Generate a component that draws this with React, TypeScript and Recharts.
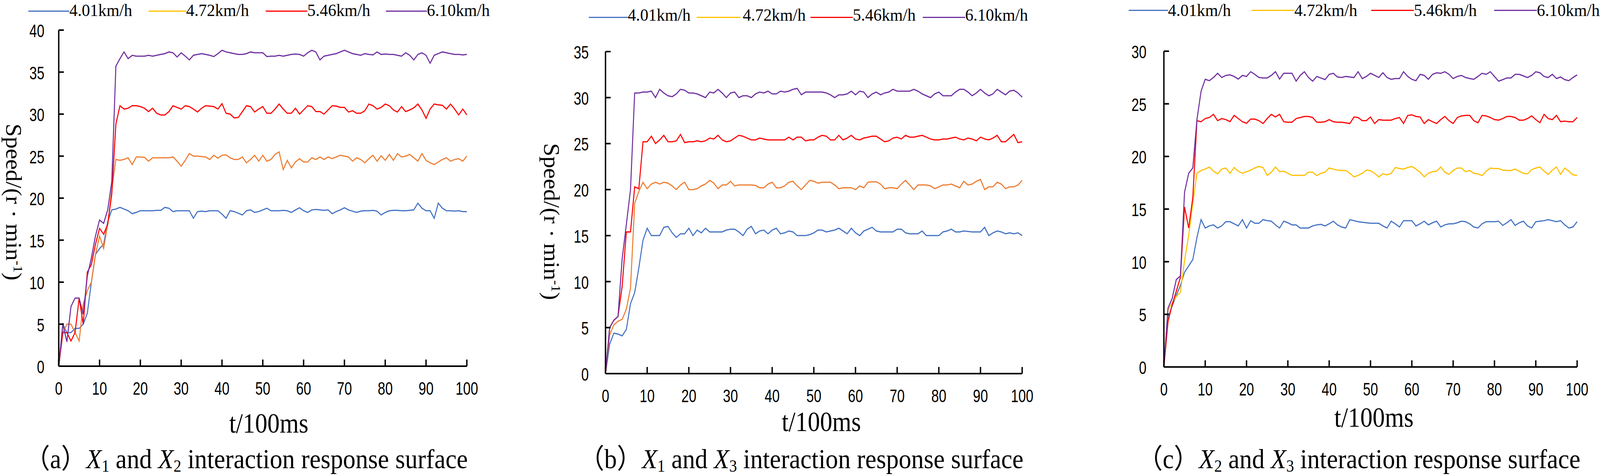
import React from "react";
import { LineChart, Line, XAxis, YAxis } from "recharts";

// Motor speed response for four walking speeds, three factor pairings.
// One sample per 100 ms, t = 0..100.

const PAGE_W = 4685;
const PAGE_H = 1218;

const T = Array.from({ length: 101 }, (_, i) => i);

const SERIES = ["4.01km/h", "4.72km/h", "5.46km/h", "6.10km/h"];
const LEGEND_COLORS = ["#4472C4", "#FFC000", "#FF0000", "#7030A0"];

const X_TICKS = [0, 10, 20, 30, 40, 50, 60, 70, 80, 90, 100];
const Y_TICKS_A = [0, 5, 10, 15, 20, 25, 30, 35, 40];
const Y_TICKS_B = [0, 5, 10, 15, 20, 25, 30, 35];
const Y_TICKS_C = [0, 5, 10, 15, 20, 25, 30];

// (a) X1 and X2
const A_401 = [
  0, 5.0, 4.0, 4.0, 4.5, 4.5, 5.0, 6.3, 10.0, 13.3,
  14.0, 14.5, 17.2, 18.6, 18.7, 18.9, 18.7, 18.5, 18.15, 18.3,
  18.5, 18.5, 18.5, 18.5, 18.55, 18.55, 18.9, 18.8, 18.4, 18.5,
  18.5, 18.5, 18.5, 17.6, 18.4, 18.45, 18.4, 18.5, 18.5, 18.5,
  18.1, 17.6, 18.5, 18.4, 18.2, 18.0, 18.5, 18.6, 18.3, 18.4,
  18.6, 18.8, 18.5, 18.5, 18.5, 18.55, 18.5, 18.3, 18.6, 18.85,
  18.5, 18.3, 18.6, 18.65, 18.6, 18.55, 18.6, 18.15, 18.4, 18.6,
  18.85, 18.6, 18.45, 18.3, 18.45, 18.5, 18.5, 18.55, 18.45, 18.0,
  18.3, 18.5, 18.55, 18.55, 18.5, 18.5, 18.55, 18.6, 19.4, 18.8,
  18.5, 18.5, 17.6, 19.4, 18.8, 18.5, 18.5, 18.45, 18.5, 18.4,
  18.4,
];
const A_472 = [
  0, 4.0, 5.0, 5.0, 4.0, 3.0, 7.4, 9.0, 10.0, 13.3,
  15.5, 14.0, 16.9, 21.0, 24.6, 24.5, 24.6, 24.8, 24.0, 24.9,
  24.9, 24.85, 24.4, 24.8, 24.8, 24.8, 24.8, 24.8, 24.9, 24.4,
  23.8, 24.5, 25.3, 25.0, 25.0, 24.95, 24.9, 24.6, 25.1, 24.75,
  25.1, 25.15, 24.8, 24.6, 24.6, 24.9, 24.2, 24.6, 25.1, 24.4,
  25.1, 24.4, 24.6, 25.2, 25.5, 23.4, 24.5, 23.6, 24.3, 24.7,
  24.3, 24.3, 24.8, 24.6, 24.9, 24.6, 24.9, 24.7, 24.9, 25.1,
  25.0, 24.9, 24.4, 24.8, 24.6, 24.2, 24.7, 25.1, 24.4, 25.05,
  24.5, 25.2, 24.5, 25.3, 24.9, 25.0, 25.2, 24.8, 24.4, 25.3,
  24.5, 24.2, 24.0, 24.3, 24.6, 24.8, 24.4, 24.6, 24.7, 24.4,
  25.0,
];
const A_546 = [
  0, 4.0, 4.0, 3.0, 4.0, 8.1, 5.0, 11.2, 12.1, 14.5,
  16.4, 15.7, 16.9, 20.5, 28.8, 31.0, 30.6, 30.7, 31.0, 31.0,
  30.9, 30.7, 30.3, 30.7, 30.1, 29.9, 29.9, 30.3, 31.0, 30.8,
  30.6, 31.0, 30.9, 30.6, 30.25, 30.7, 31.0, 30.95, 30.9, 30.6,
  31.25, 30.1, 30.0, 29.55, 29.6, 30.3, 31.0, 30.9, 30.25, 30.6,
  30.9, 30.1, 30.1, 30.6, 31.2, 30.6, 30.1, 30.1, 30.7, 30.0,
  30.5, 31.0, 30.9, 30.3, 30.3, 30.0, 30.5, 31.0, 30.95, 30.8,
  30.8, 30.25, 30.4, 30.1, 30.1, 30.4, 31.2, 31.0, 30.6, 30.8,
  31.2, 31.0, 30.5, 30.25, 30.9, 30.3, 30.5, 30.75, 31.2, 30.5,
  29.5, 30.6, 31.2, 31.1, 31.05, 30.6, 31.2, 30.6, 29.9, 30.6,
  29.9,
];
const A_610 = [
  0, 5.0, 2.9, 7.1, 8.1, 8.1, 6.2, 10.7, 12.9, 15.5,
  17.4, 17.0, 18.6, 22.0, 35.7, 36.6, 37.4, 36.6, 37.0, 36.9,
  36.9, 36.9, 37.0, 36.9, 37.0, 37.1, 37.2, 37.4, 37.3, 36.8,
  37.3, 36.9, 36.45, 37.0, 37.1, 37.2, 37.1, 37.0, 36.85, 37.2,
  37.6, 37.4, 37.3, 37.2, 37.1, 37.1, 37.2, 37.4, 37.3, 37.3,
  37.3, 36.85, 36.9, 36.9, 37.0, 36.9, 37.0, 37.1, 37.15, 37.1,
  36.9, 37.3, 37.6, 37.4, 36.45, 36.9, 37.0, 37.1, 37.2, 37.4,
  37.6, 37.4, 37.2, 37.1, 37.0, 37.2, 37.1, 37.05, 37.4, 37.1,
  37.15, 37.1, 37.1, 37.0, 36.9, 37.3, 37.0, 36.45, 37.1, 37.3,
  37.0, 36.06, 37.0, 37.2, 37.4, 37.3, 37.2, 37.1, 37.1, 37.05,
  37.1,
];

// (b) X1 and X3
const B_401 = [
  0, 3.2, 4.4, 4.3, 4.1, 4.8, 7.6, 8.8, 11.5, 14.5,
  15.8, 15.0, 15.0, 15.0, 15.9, 16.0, 15.3, 14.8, 15.2, 15.2,
  15.8, 15.0, 15.6, 15.3, 15.8, 15.4, 15.4, 15.4, 15.4, 15.6,
  15.7, 15.7, 15.4, 15.0, 15.7, 16.0, 15.2, 15.5, 15.6, 15.2,
  15.6, 15.8, 15.2, 15.3, 15.5, 15.4, 15.0, 15.0, 15.0, 15.1,
  15.3, 15.6, 15.6, 15.4, 15.5, 15.6, 15.8, 15.5, 15.2, 15.8,
  15.3, 15.0, 15.5, 15.7, 15.9, 15.5, 15.4, 15.4, 15.4, 15.4,
  15.7, 15.7, 15.3, 15.2, 15.2, 15.2, 15.5, 15.0, 15.0, 15.0,
  15.0, 15.4, 15.5, 15.7, 15.4, 15.4, 15.5, 15.45, 15.4, 15.4,
  15.4, 15.9, 15.0, 15.3, 15.5, 15.4, 15.2, 15.3, 15.2, 15.3,
  15.0,
];
const B_472 = [
  0, 4.2, 5.3, 5.7, 5.9, 7.0, 9.3, 18.5, 19.8, 20.8,
  20.1, 20.6, 20.8, 20.6, 20.8, 20.7, 20.4, 20.0, 20.5, 20.8,
  20.0, 20.0, 20.1, 20.4, 20.6, 21.0, 20.7, 20.1, 20.5, 20.5,
  20.9, 20.4, 20.5, 20.5, 20.5, 20.5, 20.45, 20.2, 20.2, 20.6,
  20.8, 20.2, 20.2, 20.4, 20.8, 20.9, 20.4, 20.0, 20.5, 21.0,
  20.9, 20.7, 20.8, 20.8, 20.8, 20.5, 20.1, 20.2, 20.2, 20.2,
  20.0, 20.4, 20.2, 20.8, 20.85, 20.85, 20.6, 20.1, 20.2, 20.2,
  20.1, 20.6, 21.0, 20.5, 20.0, 20.5, 20.5, 20.5, 20.4, 20.1,
  20.3, 20.5, 20.5, 20.6, 20.4, 20.2, 20.9, 20.5, 20.6, 20.9,
  21.1, 20.0, 20.3, 20.3, 20.8, 20.6, 20.1, 20.3, 20.3, 20.5,
  21.0,
];
const B_546 = [
  0, 5.0, 5.8, 6.2, 9.5, 15.4, 15.4, 20.3, 20.1, 25.2,
  25.2, 25.8, 25.0, 25.4, 25.9, 25.2, 25.2, 25.3, 26.0, 25.1,
  25.2, 25.2, 25.3, 25.2, 25.3, 25.6, 25.5, 25.9, 25.4, 25.2,
  25.3, 25.6, 25.9, 25.8, 25.6, 25.4, 25.4, 25.6, 25.5, 25.4,
  25.4, 25.4, 25.4, 25.4, 25.7, 25.4, 25.7, 25.7, 25.3, 25.4,
  25.4, 25.7, 25.9, 25.8, 25.4, 25.4, 25.9, 25.4, 25.6, 25.9,
  25.5, 25.4, 25.6, 25.7, 25.8, 25.8, 25.5, 25.2, 25.3, 25.6,
  25.7, 25.5, 25.9, 25.7, 25.7, 25.8, 25.9, 25.7, 25.5, 25.4,
  25.4, 25.5, 25.5, 25.6, 25.7, 25.5, 25.4, 25.6, 25.5, 25.3,
  25.7, 25.5, 25.4, 25.6, 25.9, 25.2, 25.2, 25.6, 26.0, 25.1,
  25.2,
];
const B_610 = [
  0, 5.0, 5.8, 6.2, 12.5, 16.2, 20.0, 30.5, 30.5, 30.6,
  30.6, 30.7, 30.0, 30.9, 30.5, 30.2, 30.1, 30.4, 30.9, 30.8,
  30.5, 30.5, 30.4, 30.2, 30.0, 30.6, 30.5, 30.9, 30.5, 30.0,
  30.5, 30.6, 30.0, 30.2, 30.2, 30.0, 30.4, 30.6, 30.5, 30.7,
  30.4, 30.4, 30.7, 30.6, 30.7, 30.9, 31.0, 30.3, 30.6, 30.6,
  30.6, 30.6, 30.6, 30.5, 30.3, 30.0, 30.3, 30.3, 30.4, 30.7,
  30.3, 30.7, 30.6, 30.0, 30.4, 30.6, 30.3, 30.5, 30.6, 30.9,
  30.7, 30.7, 30.7, 30.7, 30.9, 30.7, 30.4, 30.2, 30.0, 30.4,
  30.6, 30.2, 30.2, 30.2, 30.6, 30.9, 30.9, 30.6, 30.2, 30.5,
  30.9, 30.5, 30.2, 30.4, 30.9, 30.6, 30.3, 30.7, 30.8, 30.5,
  30.05,
];

// (c) X2 and X3
const C_401 = [
  0, 4.7, 5.8, 6.8, 7.75, 9.0, 9.6, 10.2, 12.3, 14.0,
  13.2, 13.4, 13.5, 13.2, 13.4, 13.8, 13.8, 13.6, 13.4, 14.0,
  13.2, 13.9, 13.65, 13.65, 14.0, 13.9, 13.85, 13.5, 13.2, 13.85,
  13.7, 13.5, 13.5, 13.2, 13.2, 13.2, 13.4, 13.5, 13.55, 13.4,
  13.6, 13.85, 13.5, 13.3, 13.2, 14.0, 13.9, 13.8, 13.75, 13.7,
  13.65, 13.65, 13.65, 13.4, 13.2, 13.85, 13.6, 13.3, 13.9, 13.9,
  13.9, 13.4, 13.6, 13.85, 13.5, 13.7, 13.85, 13.3, 13.5, 13.6,
  13.6, 13.7, 13.85, 13.8, 13.6, 13.3, 13.2, 13.6, 13.8, 13.8,
  13.8, 13.85, 13.45, 13.7, 14.0, 13.45, 13.7, 13.85, 13.4, 13.2,
  13.8, 13.85, 13.9, 14.0, 13.9, 13.8, 13.9, 13.5, 13.2, 13.3,
  13.8,
];
const C_472 = [
  0, 5.4, 6.1, 6.7, 7.1, 10.1, 12.5, 15.5, 18.4, 18.67,
  18.8, 19.0, 18.6, 18.35, 18.8, 18.9, 18.4, 18.95, 18.6, 18.4,
  18.55, 18.7, 18.9, 19.05, 18.95, 18.2, 18.5, 19.0, 18.55, 18.6,
  18.4, 18.2, 18.2, 18.2, 18.2, 18.5, 18.5, 18.18, 18.4, 18.5,
  18.9, 18.8, 18.7, 18.67, 18.67, 18.4, 18.06, 18.2, 18.4, 18.7,
  18.65, 18.4, 18.06, 18.35, 18.25, 18.4, 18.95, 18.85, 18.8, 18.95,
  19.05, 18.8, 18.5, 18.06, 18.4, 18.55, 18.6, 19.0, 18.5, 18.3,
  18.67, 18.9, 18.9, 18.55, 18.67, 18.4, 18.35, 18.18, 18.6, 18.9,
  18.85, 18.85, 18.7, 18.67, 18.67, 18.8, 18.6, 18.4, 18.35, 18.75,
  18.9, 19.0, 18.6, 18.3, 18.7, 19.0, 18.3, 18.9, 18.6, 18.25,
  18.2,
];
const C_546 = [
  0, 4.3, 5.9, 7.2, 8.5, 15.2, 13.2, 16.1, 23.4, 23.3,
  23.6, 23.7, 24.0, 23.4, 23.6, 23.5, 23.3, 23.9, 23.6, 23.3,
  23.15, 23.55, 23.55, 23.4, 23.13, 23.6, 24.0, 23.75, 24.0, 23.3,
  23.25, 23.25, 23.6, 23.7, 23.8, 23.8, 23.7, 23.25, 23.25, 23.3,
  23.5, 23.3, 23.25, 23.25, 23.2, 23.13, 23.75, 23.7, 23.4, 23.4,
  23.75, 23.13, 23.5, 23.45, 23.45, 23.45, 23.6, 23.7, 23.13, 23.9,
  23.95, 23.8, 23.75, 23.13, 23.5, 23.3, 23.13, 23.5, 23.8, 23.4,
  23.13, 23.7, 23.85, 23.9, 23.9, 23.4, 23.2, 23.9, 23.85, 23.7,
  23.5, 23.45, 23.6, 23.8, 23.8, 23.7, 23.45, 23.45, 23.6, 23.85,
  23.5, 23.2, 24.0, 23.6, 23.5, 23.9, 23.3, 23.35, 23.3, 23.3,
  23.7,
];
const C_610 = [
  0, 5.6, 6.5, 8.3, 8.65, 16.6, 18.4, 18.9, 23.5, 26.2,
  27.33, 27.2, 27.5, 27.9, 27.5, 27.7, 27.75, 27.6, 27.35, 27.7,
  27.6, 28.05, 27.8, 27.5, 27.46, 27.46, 27.7, 28.05, 27.35, 27.9,
  27.9, 27.9, 27.15, 27.7, 28.05, 27.5, 27.15, 27.6, 27.45, 27.3,
  27.8, 27.9, 27.55, 27.5, 27.6, 27.55, 27.5, 28.05, 27.4, 27.6,
  27.9, 27.7, 27.5, 27.95, 27.5, 27.33, 27.4, 27.4, 28.05, 27.6,
  27.33, 27.2, 27.8, 27.7, 27.33, 27.8, 27.95, 27.9, 28.05, 27.8,
  27.4, 27.6, 27.7, 27.5, 27.4, 27.33, 27.6, 27.9, 27.8, 28.05,
  27.6, 27.15, 27.3, 27.46, 27.46, 27.8, 27.8, 27.65, 27.5, 27.7,
  28.05, 27.95, 27.6, 27.5, 27.8, 27.4, 27.55, 27.3, 27.2, 27.5,
  27.75,
];

const SERIF = '"Liberation Serif", "Times New Roman", "Noto Sans CJK SC", serif';
const TICK_FONT = '"Liberation Sans", Arial, sans-serif';

const toRows = (cols: number[][]) =>
  T.map((t, i) => ({ t, s0: cols[0][i], s1: cols[1][i], s2: cols[2][i], s3: cols[3][i] }));

// layout of the three panels, in sheet pixels
const PANELS = [
  {
    id: "a",
    rows: toRows([A_401, A_472, A_546, A_610]),
    colors: ["#4472C4", "#ED7D31", "#FF0000", "#7030A0"],
    yTicks: Y_TICKS_A,
    left: 0,
    width: 1500,
    margin: { top: 77, right: 133, bottom: 201, left: 72 },
    yGap: 42,
    legend: { lineY: 28, base: 42, items: [[83, 203, 203], [435, 545, 545], [778, 900, 900], [1130, 1250, 1250]] },
    yTitle: { x: 40, y: 517 },
    xTitle: { x: 787, base: 1107 },
    caption: { x: 73, sub: ["1", "2"], tag: "a" },
  },
  {
    id: "b",
    rows: toRows([B_401, B_472, B_546, B_610]),
    colors: ["#4472C4", "#ED7D31", "#FF0000", "#7030A0"],
    yTicks: Y_TICKS_B,
    left: 1560,
    width: 1500,
    margin: { top: 132, right: 67, bottom: 182, left: 113 },
    yGap: 49,
    legend: { lineY: 44, base: 54, items: [[1724, 1838, 1838], [2040, 2168, 2175], [2373, 2497, 2497], [2702, 2826, 2826]] },
    yTitle: { x: 1615, y: 567 },
    xTitle: { x: 2405, base: 1103 },
    caption: { x: 1696, sub: ["1", "3"], tag: "b" },
  },
  {
    id: "c",
    rows: toRows([C_401, C_472, C_546, C_610]),
    colors: ["#4472C4", "#FFC000", "#FF0000", "#7030A0"],
    yTicks: Y_TICKS_C,
    left: 3120,
    width: 1560,
    margin: { top: 131, right: 62, bottom: 199, left: 188 },
    yGap: 51,
    legend: { lineY: 26, base: 42, items: [[3305, 3420, 3420], [3665, 3790, 3790], [4015, 4140, 4140], [4375, 4500, 4500]] },
    yTitle: null,
    xTitle: { x: 4023, base: 1092 },
    caption: { x: 3331, sub: ["2", "3"], tag: "c" },
  },
];

const XTick = ({ x, y, payload }: any) => (
  <text
    transform={`translate(${x},${y}) scale(0.86,1)`}
    textAnchor="middle"
    dy={33}
    fontFamily={TICK_FONT}
    fontSize={46}
    fill="#000"
  >
    {payload.value}
  </text>
);

const YTick = ({ x, y, payload }: any) => (
  <text
    transform={`translate(${x},${y}) scale(0.86,1)`}
    textAnchor="end"
    dy={18}
    fontFamily={TICK_FONT}
    fontSize={46}
    fill="#000"
  >
    {payload.value}
  </text>
);

const baseTop = (base: number, fs: number) => base - 0.8375 * fs;

const Sub = ({ children }: any) => (
  <span style={{ fontSize: "0.62em", lineHeight: 1, position: "relative", top: "0.2em" }}>{children}</span>
);

function Panel({ p }: { p: (typeof PANELS)[number] }) {
  const axisStroke = { stroke: "#000", strokeWidth: 4 };
  return (
    <>
      <div style={{ position: "absolute", left: p.left, top: 0 }}>
        <LineChart width={p.width} height={PAGE_H} data={p.rows} margin={p.margin}>
          <XAxis
            dataKey="t"
            type="number"
            domain={[0, 100]}
            ticks={X_TICKS}
            interval={0}
            height={80}
            axisLine={axisStroke}
            tickLine={axisStroke}
            tickSize={-17}
            tickMargin={57}
            tick={<XTick />}
          />
          <YAxis
            type="number"
            domain={[0, p.yTicks[p.yTicks.length - 1]]}
            ticks={p.yTicks}
            interval={0}
            width={100}
            axisLine={axisStroke}
            tickLine={axisStroke}
            tickSize={-15}
            tickMargin={p.yGap + 15}
            tick={<YTick />}
          />
          {SERIES.map((name, k) => (
            <Line
              key={name}
              name={name}
              dataKey={`s${k}`}
              type="linear"
              stroke={p.colors[k]}
              strokeWidth={3}
              dot={false}
              activeDot={false}
              isAnimationActive={false}
            />
          ))}
        </LineChart>
      </div>

      {/* legend */}
      {SERIES.map((name, k) => {
        const [x1, x2, tx] = p.legend.items[k];
        return (
          <React.Fragment key={`${p.id}-${name}`}>
            <div
              style={{
                position: "absolute",
                left: x1,
                top: p.legend.lineY - 1.5,
                width: x2 - x1,
                height: 3,
                background: LEGEND_COLORS[k],
              }}
            />
            <div
              style={{
                position: "absolute",
                left: tx,
                top: baseTop(p.legend.base, 44),
                fontSize: 44,
                lineHeight: "44px",
                whiteSpace: "nowrap",
                transform: "scaleX(1.1)",
                transformOrigin: "left center",
              }}
            >
              {name}
            </div>
          </React.Fragment>
        );
      })}

      {p.yTitle && (
        <div
          style={{
            position: "absolute",
            left: p.yTitle.x,
            top: p.yTitle.y,
            fontSize: 66,
            lineHeight: "66px",
            whiteSpace: "nowrap",
            transform: "translate(-50%,-50%) rotate(90deg) scaleX(0.92)",
          }}
        >
          Speed/(r · min
          <span style={{ fontSize: "0.6em", lineHeight: 1, position: "relative", top: "-0.55em" }}>-1</span>)
        </div>
      )}

      <div
        style={{
          position: "absolute",
          left: p.xTitle.x,
          top: baseTop(p.xTitle.base, 72),
          fontSize: 72,
          lineHeight: "72px",
          whiteSpace: "nowrap",
          transform: "translateX(-50%)",
        }}
      >
        t/100ms
      </div>

      <div
        style={{
          position: "absolute",
          left: p.caption.x,
          top: baseTop(1199, 70),
          fontSize: 70,
          lineHeight: "70px",
          whiteSpace: "nowrap",
          transform: "scaleX(1.05)",
          transformOrigin: "left center",
        }}
      >
        （{p.caption.tag}）<i>X</i>
        <Sub>{p.caption.sub[0]}</Sub> and <i>X</i>
        <Sub>{p.caption.sub[1]}</Sub> interaction response surface
      </div>
    </>
  );
}

export default function App() {
  // the figure is laid out on a 4685x1218 sheet; fit it to the actual viewport
  const vw = typeof window !== "undefined" && window.innerWidth > 0 ? window.innerWidth : PAGE_W;
  const vh = typeof window !== "undefined" && window.innerHeight > 0 ? window.innerHeight : PAGE_H;
  const sx = vw / PAGE_W;
  const sy = vh / PAGE_H;
  return (
    <div
      style={{
        position: "absolute",
        left: 0,
        top: 0,
        width: Math.floor(PAGE_W * sx),
        height: Math.floor(PAGE_H * sy),
        overflow: "hidden",
        background: "#fff",
      }}
    >
      <div
        style={{
          position: "absolute",
          left: 0,
          top: 0,
          width: PAGE_W,
          height: PAGE_H,
          transform: `scale(${sx}, ${sy})`,
          transformOrigin: "0 0",
          background: "#fff",
          fontFamily: SERIF,
          color: "#000",
        }}
      >
        {PANELS.map((p) => (
          <Panel key={p.id} p={p} />
        ))}
      </div>
    </div>
  );
}
